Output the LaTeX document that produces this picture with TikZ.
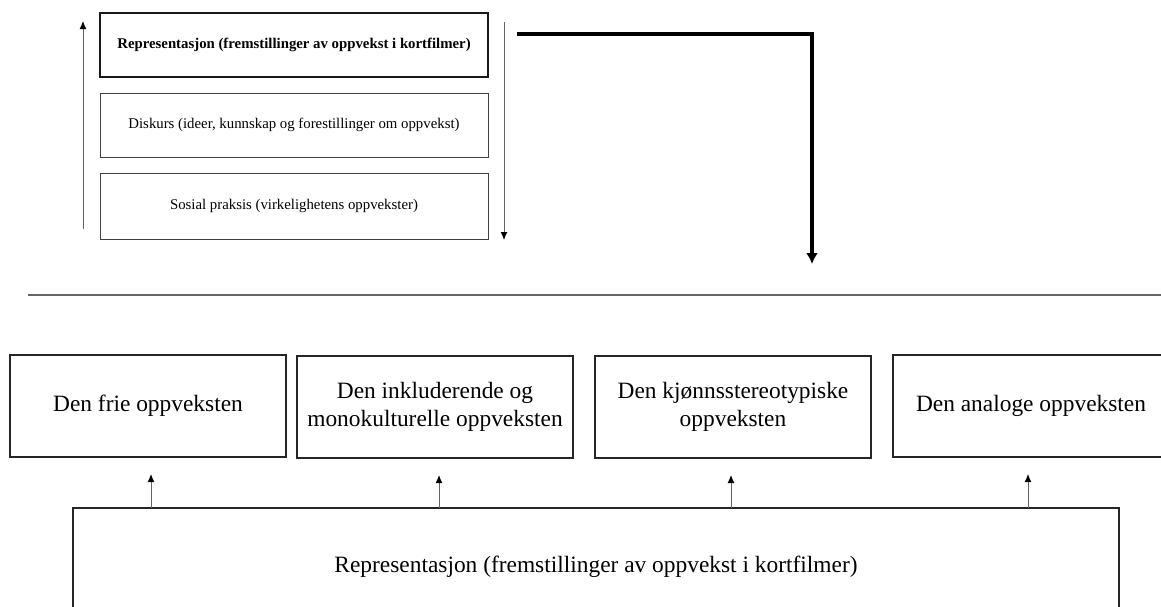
\documentclass[tikz,border=0pt]{standalone}
\usepackage{fontspec}
\setmainfont{Liberation Serif}
\usetikzlibrary{arrows.meta,calc}
\tikzset{
  topbox/.style={draw=black!75, line width=1pt, minimum width=388pt, minimum height=64pt, inner sep=0pt, outer sep=0pt, align=center, font=\fontsize{14.8}{17.8}\selectfont},
  rowbox/.style={draw=black!85, line width=1.7pt, minimum width=276pt, minimum height=102pt, inner sep=0pt, outer sep=0pt, align=center, font=\fontsize{23.4}{28}\selectfont},
  thinarr/.style={draw=black!60, line width=1pt, -{Latex[length=8pt,width=7pt,color=black]}},
  thickarr/.style={draw=black, line width=3.5pt, -{Latex[length=11pt,width=12pt]}},
}
\begin{document}
\begin{tikzpicture}[x=1pt,y=-1pt]
\useasboundingbox (0,0) rectangle (1161,606);
\fill[white] (0,0) rectangle (1161,606);
\begin{scope}
\clip (0,0) rectangle (1161,606);
% top stack
\node[topbox, line width=1.8pt, draw=black!90] (t1) at (294,45) {\bfseries Representasjon (fremstillinger av oppvekst i kortfilmer)};
\node[topbox] (t2) at (294,125) {Diskurs (ideer, kunnskap og forestillinger om oppvekst)};
\node[topbox, minimum height=66pt] (t3) at (294,206) {Sosial praksis (virkelighetens oppvekster)};
\coordinate (upS) at (83,229);
\coordinate (upE) at (83,21);
\coordinate (dnS) at (504,22);
\coordinate (dnE) at (504,240);
\draw[thinarr] (upS) -- (upE);
\draw[thinarr] (dnS) -- (dnE);
% thick bent arrow
\coordinate (kS) at (517,34);
\coordinate (kC) at (812,34);
\coordinate (kE) at (812,264);
\draw[thickarr] (kS) -- (kC) -- (kE);
% separator
\coordinate (sepL) at (28,295);
\coordinate (sepR) at (1161,295);
\draw[black!60, line width=1.2pt] (sepL) -- (sepR);
% row of boxes
\node[rowbox] (a) at (148,406) {Den frie oppveksten};
\node[rowbox] (b) at (435,407) {Den inkluderende og\\monokulturelle oppveksten};
\node[rowbox] (c) at (733,407) {Den kjønnsstereotypiske\\oppveksten};
\node[rowbox] (d) at (1031,406) {Den analoge oppveksten};
% bottom box
\node[rowbox, minimum width=1046pt, minimum height=118pt] (r) at (596,567) {Representasjon (fremstillinger av oppvekst i kortfilmer)};
\foreach \n/\dx in {a/3,b/4,c/-2,d/-3}{
  \draw[thinarr, shorten >=17pt] ($(\n.south |- r.north)+(\dx,0)$) -- ($(\n.south)+(\dx,0)$);
}
\end{scope}
\end{tikzpicture}
\end{document}
